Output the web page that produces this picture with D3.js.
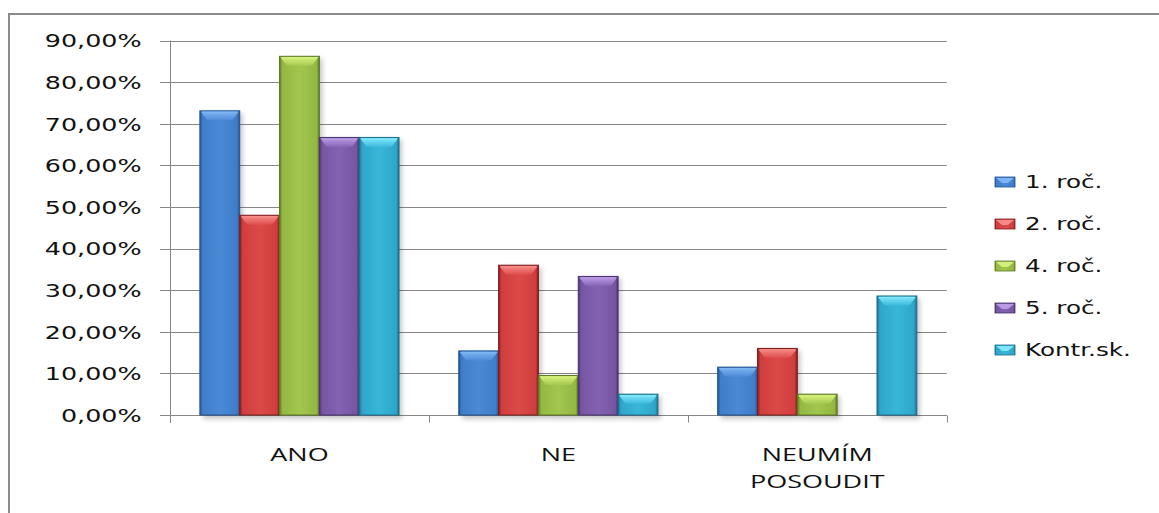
<!DOCTYPE html>
<html>
<head>
<meta charset="utf-8">
<script src="https://cdn.jsdelivr.net/npm/d3@7"></script>
<style>
  html, body { margin: 0; padding: 0; background: #ffffff; }
  svg { display: block; }
</style>
</head>
<body>
<svg id="chart" width="1159" height="513"></svg>
<script>
// Survey answers by school year (share of respondents)
const categories = [["ANO"], ["NE"], ["NEUMÍM", "POSOUDIT"]];
const categoryKeys = ["ANO", "NE", "NEUMÍM POSOUDIT"];
const seriesNames = ["1. roč.", "2. roč.", "4. roč.", "5. roč.", "Kontr.sk."];
const rocnik1 = [0.731, 0.154, 0.115];
const rocnik2 = [0.480, 0.360, 0.160];
const rocnik4 = [0.862, 0.095, 0.050];
const rocnik5 = [0.667, 0.333, 0.000];
const kontrolni = [0.667, 0.050, 0.286];
const yTicks = [0, 0.1, 0.2, 0.3, 0.4, 0.5, 0.6, 0.7, 0.8, 0.9];

const seriesValues = [rocnik1, rocnik2, rocnik4, rocnik5, kontrolni];

// bevelled bar palette: body, dark edge, light top
const palette = [
  { body: "#3f7dc9", mid: "#4a89d6", edge: "#24538f", top: "#7db4f2" },
  { body: "#cf3e3d", mid: "#dc4a48", edge: "#7d1f1f", top: "#f58a86" },
  { body: "#93b843", mid: "#a2c64e", edge: "#5d7a25", top: "#d4f07a" },
  { body: "#7656a3", mid: "#8462b3", edge: "#4a3270", top: "#b99ae4" },
  { body: "#2fa6c9", mid: "#38b6d8", edge: "#1b6f88", top: "#7fe6fb" }
];

const svg = d3.select("#chart");
const defs = svg.append("defs");

const plotLeft = 170, plotRight = 946.7, plotTop = 40.5, plotBottom = 415;
const SX = 1.45; // horizontal glyph stretch used by all labels

// outer frame
svg.append("rect")
  .attr("x", 9).attr("y", 14)
  .attr("width", 1170).attr("height", 520)
  .attr("fill", "none").attr("stroke", "#8a8a8a").attr("stroke-width", 2);

const y = d3.scaleLinear().domain([0, 0.9]).range([plotBottom, plotTop]);
const x0 = d3.scaleBand().domain(categoryKeys).range([plotLeft, plotRight]).padding(0);
const bw = x0.bandwidth();
const barW = bw / (seriesNames.length + 1.5);
const x1 = d3.scaleBand().domain(seriesNames)
  .range([barW * 0.75, bw - barW * 0.75]).padding(0);

// gridlines
svg.append("g")
  .selectAll("line")
  .data(yTicks)
  .join("line")
  .attr("x1", plotLeft - 10).attr("x2", plotRight)
  .attr("y1", d => Math.round(y(d)) + 0.5).attr("y2", d => Math.round(y(d)) + 0.5)
  .attr("stroke", "#868686").attr("stroke-width", 1);

// y axis
const yAxis = svg.append("g")
  .attr("transform", `translate(${plotLeft + 0.5},0)`)
  .call(d3.axisLeft(y).tickValues(yTicks).tickSize(0).tickPadding(0)
    .tickFormat(d => d3.format(".2f")(d * 100).replace(".", ",") + "%"));
yAxis.select(".domain").attr("stroke", "#868686").attr("d", `M0,${plotTop}V${plotBottom + 8}`);
yAxis.selectAll("text")
  .attr("font-family", "'DejaVu Sans', Verdana, sans-serif")
  .attr("font-size", 17.5)
  .attr("fill", "#111")
  .attr("x", -29 / SX)
  .attr("dy", "0.36em")
  .attr("transform", `scale(${SX},1)`);

// x axis
const xAxis = svg.append("g")
  .attr("transform", `translate(0,${plotBottom + 0.5})`);
xAxis.append("line")
  .attr("x1", plotLeft).attr("x2", plotRight)
  .attr("stroke", "#868686");
xAxis.selectAll("line.tick")
  .data(d3.range(categoryKeys.length + 1))
  .join("line")
  .attr("class", "tick")
  .attr("x1", i => Math.round(plotLeft + i * bw) + 0.5)
  .attr("x2", i => Math.round(plotLeft + i * bw) + 0.5)
  .attr("y1", 0).attr("y2", 7)
  .attr("stroke", "#868686");

const xLabels = svg.append("g");
categories.forEach((lines, ci) => {
  const cx = x0(categoryKeys[ci]) + bw / 2;
  lines.forEach((ln, li) => {
    xLabels.append("text")
      .attr("transform", `translate(${cx},${461 + li * 27}) scale(1.42,1)`)
      .attr("text-anchor", "middle")
      .attr("font-family", "'Open Sans', 'Liberation Sans', sans-serif")
      .attr("font-size", 19)
      .attr("fill", "#111")
      .text(ln);
  });
});

// gradients and shadow
palette.forEach((c, i) => {
  const g = defs.append("linearGradient").attr("id", "body" + i)
    .attr("x1", 0).attr("x2", 1).attr("y1", 0).attr("y2", 0);
  g.append("stop").attr("offset", 0).attr("stop-color", c.edge);
  g.append("stop").attr("offset", 0.07).attr("stop-color", c.body);
  g.append("stop").attr("offset", 0.5).attr("stop-color", c.mid);
  g.append("stop").attr("offset", 0.93).attr("stop-color", c.body);
  g.append("stop").attr("offset", 1).attr("stop-color", c.edge);
  const t = defs.append("linearGradient").attr("id", "top" + i)
    .attr("x1", 0).attr("x2", 0).attr("y1", 0).attr("y2", 1);
  t.append("stop").attr("offset", 0).attr("stop-color", c.top);
  t.append("stop").attr("offset", 1).attr("stop-color", c.mid);
});
const sh = defs.append("filter").attr("id", "shadow")
  .attr("x", "-30%").attr("y", "-10%").attr("width", "160%").attr("height", "130%");
sh.append("feGaussianBlur").attr("stdDeviation", 2.5);

// bars
const bars = [];
categoryKeys.forEach((cat, ci) => {
  seriesNames.forEach((s, si) => {
    bars.push({ cat, s, si, v: seriesValues[si][ci] });
  });
});

const barG = svg.append("g");
const visible = bars.filter(d => d.v > 0);

barG.selectAll("rect.shadow")
  .data(visible)
  .join("rect")
  .attr("class", "shadow")
  .attr("x", d => x0(d.cat) + x1(d.s) + 3)
  .attr("y", d => y(d.v) + 2)
  .attr("width", x1.bandwidth())
  .attr("height", d => plotBottom - y(d.v) + 2)
  .attr("fill", "#000").attr("opacity", 0.22)
  .attr("filter", "url(#shadow)");

const bar = barG.selectAll("g.bar")
  .data(visible)
  .join("g")
  .attr("class", "bar");

bar.append("rect")
  .attr("x", d => x0(d.cat) + x1(d.s))
  .attr("y", d => y(d.v))
  .attr("width", x1.bandwidth())
  .attr("height", d => plotBottom - y(d.v))
  .attr("fill", d => `url(#body${d.si})`)
  .attr("stroke", d => palette[d.si].edge)
  .attr("stroke-width", 1);

// top bevel
bar.append("path")
  .attr("d", d => {
    const xl = x0(d.cat) + x1(d.s) + 1, xr = xl + x1.bandwidth() - 2;
    const yt = y(d.v) + 1, h = Math.min(8, plotBottom - y(d.v) - 1), ins = 6;
    return `M${xl},${yt}L${xr},${yt}L${xr - ins},${yt + h}Q${(xl + xr) / 2},${yt + h + 2} ${xl + ins},${yt + h}Z`;
  })
  .attr("fill", d => `url(#top${d.si})`);

// highlight line on top edge
bar.append("line")
  .attr("x1", d => x0(d.cat) + x1(d.s) + 2)
  .attr("x2", d => x0(d.cat) + x1(d.s) + x1.bandwidth() - 2)
  .attr("y1", d => y(d.v) + 1.5).attr("y2", d => y(d.v) + 1.5)
  .attr("stroke", d => palette[d.si].top).attr("stroke-width", 1.5);

// legend
const legend = svg.append("g");
seriesNames.forEach((s, i) => {
  const ly = 182 + i * 42;
  const g = legend.append("g");
  g.append("rect")
    .attr("x", 995).attr("y", ly - 5)
    .attr("width", 20).attr("height", 10)
    .attr("fill", `url(#body${i})`)
    .attr("stroke", palette[i].edge).attr("stroke-width", 0.8);
  g.append("path")
    .attr("d", `M996,${ly - 4}L1014,${ly - 4}L1008,${ly + 1}L1002,${ly + 1}Z`)
    .attr("fill", palette[i].top);
  g.append("text")
    .attr("transform", `translate(1025,${ly}) scale(${SX},1)`)
    .attr("dy", "0.36em")
    .attr("font-family", "'DejaVu Sans', Verdana, sans-serif")
    .attr("font-size", 17)
    .attr("fill", "#111")
    .text(s);
});
</script>
</body>
</html>
